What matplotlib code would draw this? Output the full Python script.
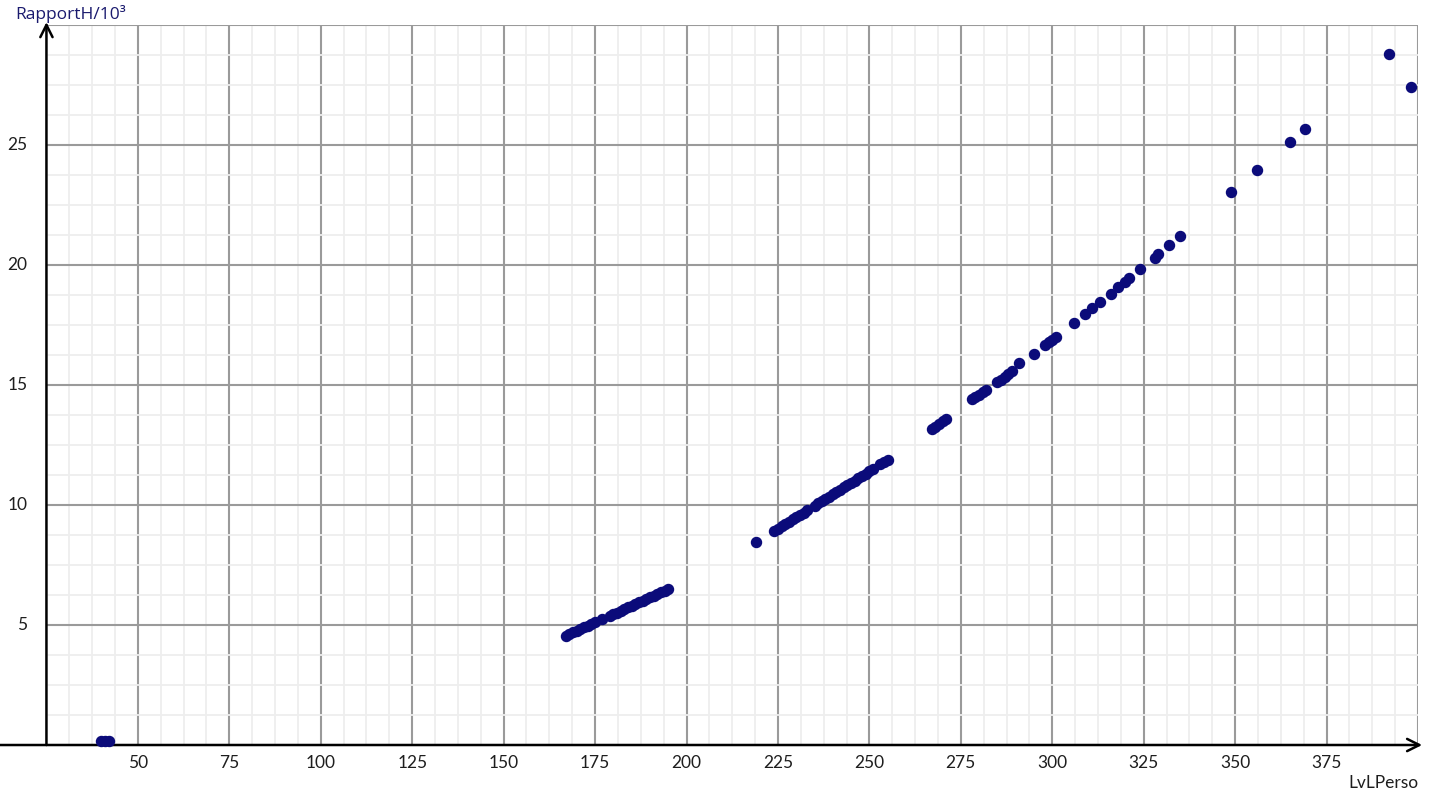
import numpy as np
import matplotlib.pyplot as plt
from matplotlib.ticker import MultipleLocator

plt.rcParams['font.family'] = ['Lato', 'DejaVu Sans']

# data
lvl_perso = [40, 41, 42,
             167, 168, 169, 170, 171, 172, 173, 174, 175, 177, 179, 180, 181, 182,
             183, 184, 185, 186, 187, 188, 189, 190, 191, 192, 193, 194, 195,
             219, 224, 225, 226, 227, 228, 229, 230, 231, 232, 233, 235, 236, 237,
             238, 239, 240, 241, 242, 243, 244, 245, 246, 247, 248, 249, 250, 251,
             253, 254, 255,
             267, 268, 269, 270, 271,
             278, 279, 280, 281, 282, 285, 286, 287, 288, 289, 291, 295,
             298, 299, 300, 301, 306, 309, 311, 313, 316, 318, 320, 321, 324,
             328, 329, 332, 335,
             349, 356, 365, 369, 392, 398]
rapport_h = [0.15, 0.16, 0.18,
             4.55, 4.62, 4.69, 4.76, 4.83, 4.90, 4.97, 5.04, 5.11, 5.25, 5.39, 5.45, 5.52, 5.59,
             5.66, 5.73, 5.80, 5.87, 5.94, 6.01, 6.08, 6.15, 6.22, 6.29, 6.36, 6.43, 6.50,
             8.46, 8.92, 9.02, 9.11, 9.21, 9.30, 9.40, 9.49, 9.59, 9.68, 9.78, 9.97, 10.07, 10.16,
             10.26, 10.35, 10.45, 10.54, 10.64, 10.73, 10.83, 10.92, 11.02, 11.11, 11.21, 11.30, 11.40, 11.49,
             11.69, 11.78, 11.88,
             13.17, 13.27, 13.37, 13.48, 13.58,
             14.40, 14.50, 14.60, 14.70, 14.80, 15.12, 15.22, 15.33, 15.45, 15.57, 15.90, 16.28,
             16.67, 16.78, 16.89, 17.00, 17.60, 17.96, 18.20, 18.46, 18.80, 19.07, 19.30, 19.44, 19.82,
             20.29, 20.46, 20.83, 21.21,
             23.03, 23.94, 25.13, 25.68, 28.78, 27.40]

x_ticks = [50, 75, 100, 125, 150, 175, 200, 225, 250, 275, 300, 325, 350, 375]
y_ticks = [5, 10, 15, 20, 25]

fig = plt.figure(figsize=(14.29, 8.01), dpi=100)
ax = fig.add_axes([0.0325, 0.0699, 0.9598, 0.8989])
ax.set_xlim(25, 400)
ax.set_ylim(0, 30)

# grid
ax.xaxis.set_major_locator(MultipleLocator(25))
ax.yaxis.set_major_locator(MultipleLocator(5))
ax.xaxis.set_minor_locator(MultipleLocator(6.25))
ax.yaxis.set_minor_locator(MultipleLocator(1.25))
ax.grid(which='minor', color='#eeeeee', linewidth=1.3, zorder=0)
ax.grid(which='major', color='#9a9a9a', linewidth=1.5, zorder=1)
ax.tick_params(which='both', length=0)
ax.set_xticklabels([])
ax.set_yticklabels([])
for s in ax.spines.values():
    s.set_visible(False)

# tick labels
for t in x_ticks:
    ax.text(t, -0.4, str(t), ha='center', va='top', fontsize=12.5, color='#1e1e1e')
for t in y_ticks:
    ax.text(19.8, t, str(t), ha='right', va='center', fontsize=12.5, color='#1e1e1e')

ax.scatter(lvl_perso, rapport_h, s=52, color='#0b0b7a', zorder=5, clip_on=False)

# axes arrows
ax.annotate('', xy=(1.003, 0), xytext=(-0.035, 0), xycoords='axes fraction',
            arrowprops=dict(arrowstyle='->', color='black', lw=1.8,
                            mutation_scale=22, shrinkA=0, shrinkB=0))
ax.annotate('', xy=(0, 1.004), xytext=(0, 0), xycoords='axes fraction',
            arrowprops=dict(arrowstyle='->', color='black', lw=1.8,
                            mutation_scale=22, shrinkA=0, shrinkB=0))

fig.text(0.011, 0.982, 'RapportH/10³', ha='left', va='center', fontsize=12.5,
         color='#1a1a6e', family=['Open Sans', 'DejaVu Sans'])
fig.text(0.993, 0.022, 'LvLPerso', ha='right', va='center', fontsize=12.5, color='#1e1e1e')

fig.savefig('out.png', dpi=100)
